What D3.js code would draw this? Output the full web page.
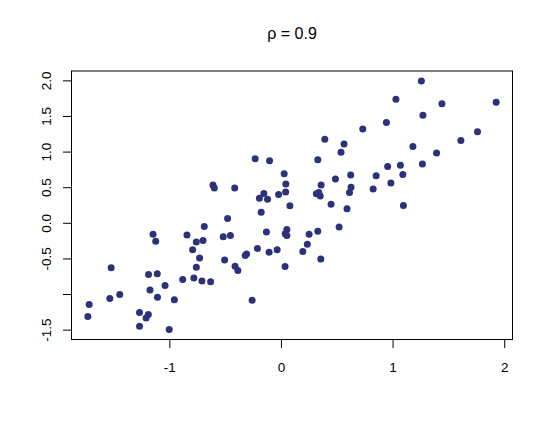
<!DOCTYPE html>
<html>
<head>
<meta charset="utf-8">
<script src="https://cdn.jsdelivr.net/npm/d3@7"></script>
<style>
  html, body { margin: 0; padding: 0; background: #ffffff; }
  svg { display: block; }
  text { font-family: "Liberation Sans", Arial, Helvetica, sans-serif; fill: #000; }
</style>
</head>
<body>
<svg id="chart" width="550" height="429"></svg>
<script>
// ---- data ----
const titleText = "ρ = 0.9";

const xValues = [
  -0.231, -0.102, 0.029, 0.044, -0.609, -0.597, -0.414, -0.153, -0.193, -0.120,
  -0.021, 0.042, 0.080, 1.258, 1.030, 1.442, 1.928, 1.272, 0.945, 0.733,
  0.393, 0.565, 0.538, 0.330, 1.761, 1.612, 1.182, 1.394, 1.267, 0.956,
  1.070, 1.092, 0.853, 0.985, 0.826, 0.625, 0.488, 0.360, 0.628, 0.614,
  0.317, 0.352, 0.339, 0.449, 0.592, 1.097, 0.053, 0.038, 0.053, 0.252,
  0.330, 0.521, 0.236, 0.196, 0.357, 0.037, -0.034, -0.106, -0.130, -0.211,
  -0.258, -0.308, -0.320, -0.411, -0.386, -0.505, -0.517, -0.453, -0.478, -0.177,
  -0.687, -0.842, -0.758, -0.698, -0.791, -0.729, -0.758, -0.780, -0.708, -0.630,
  -0.880, -0.955, -1.001, -1.038, -1.108, -1.186, -1.146, -1.122, -1.173, -1.106,
  -1.267, -1.188, -1.208, -1.267, -1.521, -1.444, -1.533, -1.718, -1.730
];

const yValues = [
  0.901, 0.873, 0.688, 0.546, 0.532, 0.487, 0.490, 0.413, 0.344, 0.329,
  0.396, 0.431, 0.239, 1.992, 1.734, 1.673, 1.692, 1.509, 1.407, 1.318,
  1.175, 1.108, 0.990, 0.887, 1.280, 1.154, 1.070, 0.981, 0.827, 0.789,
  0.807, 0.679, 0.660, 0.560, 0.476, 0.672, 0.614, 0.532, 0.498, 0.424,
  0.407, 0.376, 0.427, 0.260, 0.199, 0.244, -0.093, -0.152, -0.177, -0.160,
  -0.117, -0.058, -0.302, -0.402, -0.507, -0.615, -0.379, -0.413, -0.128, -0.361,
  -1.088, -0.437, -0.458, -0.611, -0.671, -0.524, -0.197, -0.180, 0.059, 0.147,
  -0.053, -0.170, -0.271, -0.250, -0.379, -0.494, -0.625, -0.774, -0.816, -0.827,
  -0.797, -1.082, -1.499, -0.882, -0.716, -0.727, -0.160, -0.260, -0.942, -1.046,
  -1.258, -1.286, -1.338, -1.453, -0.632, -1.005, -1.064, -1.148, -1.317
];

const xTicks = [-1, 0, 1, 2];
const xTickLabels = ["-1", "0", "1", "2"];
const yTicks = [-1.5, -1.0, -0.5, 0.0, 0.5, 1.0, 1.5, 2.0];
const yTickLabels = ["-1.5", "", "-0.5", "0.0", "0.5", "1.0", "1.5", "2.0"];

// ---- layout ----
const plot = { left: 71.5, right: 512.5, top: 71, bottom: 339.5 };
const pointColor = "#2c3279";

const svg = d3.select("#chart");

// R-style 4% range extension
function padExtent(vals) {
  const [lo, hi] = d3.extent(vals);
  const d = (hi - lo) * 0.04;
  return [lo - d, hi + d];
}

const x = d3.scaleLinear().domain(padExtent(xValues)).range([plot.left, plot.right]);
const y = d3.scaleLinear().domain(padExtent(yValues)).range([plot.bottom, plot.top]);

// points
const pts = xValues.map((v, i) => ({ x: v, y: yValues[i] }));
svg.append("g")
  .selectAll("circle")
  .data(pts)
  .join("circle")
  .attr("cx", d => x(d.x))
  .attr("cy", d => y(d.y))
  .attr("r", 3.5)
  .attr("fill", pointColor);

// box
svg.append("rect")
  .attr("x", plot.left)
  .attr("y", plot.top)
  .attr("width", plot.right - plot.left)
  .attr("height", plot.bottom - plot.top)
  .attr("fill", "none")
  .attr("stroke", "#000")
  .attr("stroke-width", 1);

// x axis
const xAxis = d3.axisBottom(x)
  .tickValues(xTicks)
  .tickFormat((d, i) => xTickLabels[i])
  .tickSize(8.5)
  .tickPadding(14)
  .tickSizeOuter(0);
const gx = svg.append("g")
  .attr("transform", `translate(0,${plot.bottom})`)
  .call(xAxis);
gx.select(".domain")
  .attr("d", `M${x(xTicks[0])},0H${x(xTicks[xTicks.length - 1])}`);
gx.selectAll("text").attr("font-size", 13.5).attr("font-family", "Liberation Sans, Arial, sans-serif");

// y axis
const yAxis = d3.axisLeft(y)
  .tickValues(yTicks)
  .tickFormat((d, i) => yTickLabels[i])
  .tickSize(8.5)
  .tickSizeOuter(0);
const gy = svg.append("g")
  .attr("transform", `translate(${plot.left},0)`)
  .call(yAxis);
gy.select(".domain")
  .attr("d", `M0,${y(yTicks[0])}V${y(yTicks[yTicks.length - 1])}`);
gy.selectAll(".tick text")
  .attr("x", null).attr("dy", null)
  .attr("text-anchor", "middle")
  .attr("font-size", 13.5)
  .attr("font-family", "Liberation Sans, Arial, sans-serif")
  .attr("transform", `translate(${51 - plot.left},0) rotate(-90)`);

// title
svg.append("text")
  .attr("x", (plot.left + plot.right) / 2)
  .attr("y", 39)
  .attr("text-anchor", "middle")
  .attr("font-size", 16)
  .attr("xml:space", "preserve")
  .style("white-space", "pre")
  .text(titleText);
</script>
</body>
</html>
